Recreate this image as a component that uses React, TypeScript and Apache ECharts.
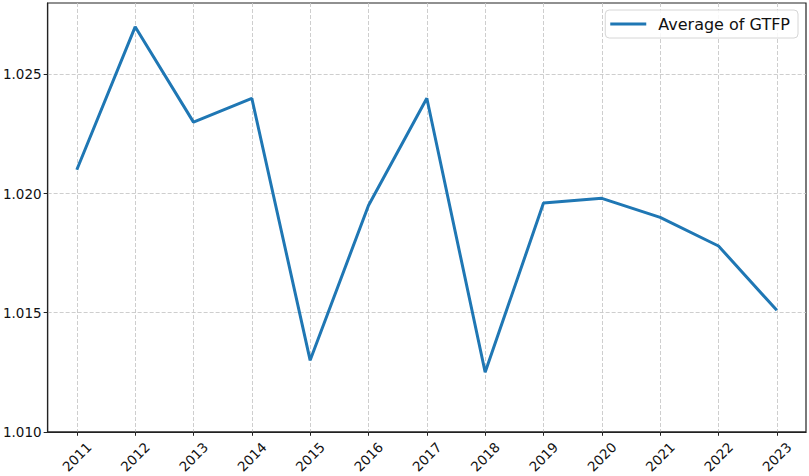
import React, { useEffect, useRef } from "react";
import * as echarts from "echarts";

const years = ["2011", "2012", "2013", "2014", "2015", "2016", "2017", "2018", "2019", "2020", "2021", "2022", "2023"];
const gtfp = [1.021, 1.027, 1.023, 1.024, 1.013, 1.0195, 1.024, 1.0125, 1.0196, 1.0198, 1.019, 1.0178, 1.0151];
const seriesName = "Average of GTFP";

export default function App() {
  const ref = useRef<HTMLDivElement>(null);
  useEffect(() => {
    if (!ref.current) return;
    const chart = echarts.init(ref.current, null, { renderer: "svg" });
    const font = "DejaVu Sans";
    chart.setOption({
      animation: false,
      backgroundColor: "#fff",
      textStyle: { fontFamily: font },
      grid: {
        left: 47,
        right: 3,
        top: 3,
        bottom: 43,
        show: true,
        borderColor: "#222",
        borderWidth: 1.2,
        backgroundColor: "transparent",
      },
      legend: {
        data: [seriesName],
        right: 11,
        top: 10,
        orient: "vertical",
        icon: "rect",
        itemWidth: 36,
        itemHeight: 3,
        itemGap: 0,
        padding: [6, 8, 6, 5],
        borderColor: "#d6d6d6",
        borderWidth: 1,
        borderRadius: 4,
        backgroundColor: "rgba(255,255,255,0.85)",
        textStyle: { fontFamily: font, fontSize: 16, color: "#111", padding: [0, 0, 0, 7] },
      },
      xAxis: {
        type: "category",
        data: years,
        boundaryGap: true,
        axisLine: { show: true, lineStyle: { color: "#222", width: 1.2 } },
        axisTick: { show: true, alignWithLabel: true, length: 4, lineStyle: { color: "#222" } },
        axisLabel: {
          rotate: 45,
          align: "center",
          verticalAlign: "middle",
          fontSize: 13.5,
          color: "#111",
          fontFamily: font,
          margin: 25,
          interval: 0,
        },
        splitLine: {
          show: true,
          alignWithLabel: true,
          interval: 0,
          lineStyle: { type: [4, 2], color: "#c8c8c8", width: 0.9 },
        },
      },
      yAxis: {
        type: "value",
        min: 1.01,
        max: 1.028,
        interval: 0.005,
        axisLine: { show: true, lineStyle: { color: "#222", width: 1.2 } },
        axisTick: { show: true, length: 4, lineStyle: { color: "#222" } },
        axisLabel: {
          fontSize: 13.5,
          color: "#111",
          fontFamily: font,
          margin: 6,
          showMaxLabel: false,
          formatter: (v: number) => v.toFixed(3),
        },
        splitLine: {
          show: true,
          showMaxLine: false,
          lineStyle: { type: [4, 2], color: "#c8c8c8", width: 0.9 },
        },
      },
      series: [
        {
          name: seriesName,
          type: "line",
          data: gtfp,
          symbol: "none",
          lineStyle: { color: "#1f77b4", width: 3 },
          itemStyle: { color: "#1f77b4" },
        },
      ],
    });
    return () => chart.dispose();
  }, []);
  return <div ref={ref} style={{ width: 809, height: 476, position: "absolute", left: 0, top: 0 }} />;
}
